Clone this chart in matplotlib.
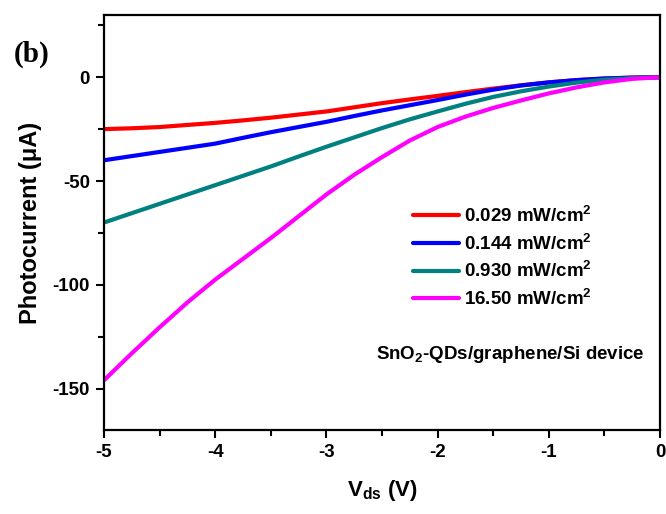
import numpy as np
import matplotlib
matplotlib.use("Agg")
import matplotlib.pyplot as plt
from matplotlib.ticker import MultipleLocator

plt.rcParams["font.family"] = ["Liberation Sans", "DejaVu Sans"]
plt.rcParams["font.weight"] = "bold"
plt.rcParams["axes.unicode_minus"] = False
plt.rcParams["mathtext.fontset"] = "custom"
plt.rcParams["mathtext.rm"] = "Liberation Sans:bold"
plt.rcParams["mathtext.it"] = "Liberation Sans:bold"
plt.rcParams["mathtext.bf"] = "Liberation Sans:bold"
plt.rcParams["mathtext.default"] = "rm"

# ---------------------------------------------------------------------------
# Data
# ---------------------------------------------------------------------------
vds = [-5.0, -4.75, -4.5, -4.25, -4.0, -3.75, -3.5, -3.25, -3.0, -2.75, -2.5,
       -2.25, -2.0, -1.75, -1.5, -1.25, -1.0, -0.75, -0.5, -0.25, 0.0]

i_0029 = [-25, -24.6, -24, -23, -22, -20.8, -19.5, -18, -16.5, -14.5, -12.5,
          -10.7, -9, -7.2, -5.5, -3.9, -2.5, -1.4, -0.7, -0.2, 0]
i_0144 = [-40, -38, -36, -34, -32, -29.2, -26.5, -24, -21.5, -18.7, -16,
          -13.5, -11, -8.4, -6, -4, -2.5, -1.4, -0.6, -0.2, 0]
i_0930 = [-70, -65.5, -61, -56.5, -52, -47.5, -43, -38.2, -33.5, -29, -24.5,
          -20.3, -16.5, -12.8, -9.5, -6.8, -4.5, -2.6, -1.2, -0.4, 0]
i_1650 = [-146, -133, -120.5, -108.5, -97.5, -87.5, -77.5, -67, -56.5, -47, -38.5,
          -30.5, -24, -19, -14.8, -11.2, -7.8, -4.9, -2.5, -0.8, 0]

labels = ["0.029 mW/cm$^2$", "0.144 mW/cm$^2$", "0.930 mW/cm$^2$", "16.50 mW/cm$^2$"]
colors = ["#ff0000", "#0000ff", "#008080", "#ff00ff"]

# ---------------------------------------------------------------------------
# Plot
# ---------------------------------------------------------------------------
fig = plt.figure(figsize=(6.66, 5.14), dpi=100)
ax = fig.add_axes([0.156, 0.163, 0.835, 0.808])

for ys, lab, col in zip([i_0029, i_0144, i_0930, i_1650], labels, colors):
    ax.plot(vds, ys, color=col, linewidth=3.0, label=lab,
            solid_capstyle="round", solid_joinstyle="round")

ax.set_xlim(-5, 0)
ax.set_ylim(-170, 30)

ax.xaxis.set_major_locator(MultipleLocator(1))
ax.xaxis.set_minor_locator(MultipleLocator(0.5))
ax.yaxis.set_major_locator(MultipleLocator(50))
ax.yaxis.set_minor_locator(MultipleLocator(25))
ax.set_yticks([-150, -100, -50, 0])

ax.tick_params(which="major", direction="out", length=6, width=1.5, labelsize=13.5, pad=4)
ax.tick_params(which="minor", direction="out", length=4, width=1.5)
ax.tick_params(top=False, right=False, which="both")
for spine in ax.spines.values():
    spine.set_linewidth(1.6)

ax.set_xlabel("V$_{ds}$ (V)", fontsize=16, fontweight="bold", labelpad=12)
ax.set_ylabel("Photocurrent (\u03bcA)", fontsize=17, fontweight="bold", labelpad=8)

ax.legend(loc="upper left", bbox_to_anchor=(0.555, 0.54), frameon=False,
          fontsize=13.5, handlelength=2.5, handletextpad=0.25, labelspacing=0.4,
          borderpad=0, borderaxespad=0)

ax.text(0.973, 0.182, "SnO$_2$-QDs/graphene/Si device", transform=ax.transAxes,
        ha="right", va="center", fontsize=13.5, fontweight="bold")

fig.text(0.02, 0.895, "(b)", fontsize=21, fontweight="bold",
         family="Liberation Serif", ha="left", va="center")

fig.savefig("out.png", dpi=100)
plt.close(fig)
